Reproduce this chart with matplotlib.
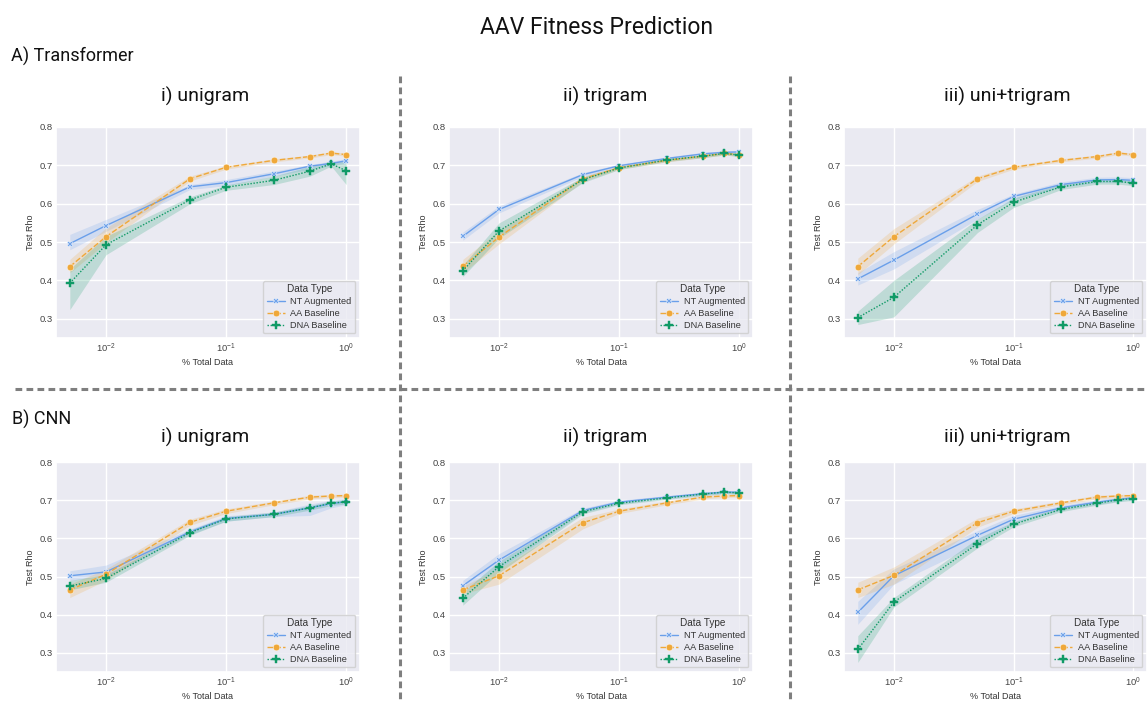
import matplotlib
matplotlib.use("Agg")
import matplotlib.pyplot as plt
from matplotlib.lines import Line2D
import seaborn as sns
import numpy as np

sns.set_theme(style="darkgrid")
plt.rcParams['font.family'] = ['Liberation Sans', 'DejaVu Sans']

# x positions (fraction of total data)
fractions = [0.005, 0.01, 0.05, 0.1, 0.25, 0.5, 0.75, 1.0]
series_names = ["NT Augmented", "AA Baseline", "DNA Baseline"]

# A) Transformer, i) unigram
tf_uni_nt = [0.496, 0.543, 0.644, 0.655, 0.678, 0.698, 0.705, 0.712]
tf_uni_nt_lo = [0.480, 0.528, 0.637, 0.647, 0.672, 0.690, 0.699, 0.706]
tf_uni_nt_hi = [0.520, 0.559, 0.650, 0.663, 0.685, 0.702, 0.711, 0.717]
tf_uni_aa = [0.436, 0.514, 0.665, 0.695, 0.713, 0.723, 0.732, 0.728]
tf_uni_aa_lo = [0.420, 0.498, 0.659, 0.690, 0.709, 0.719, 0.728, 0.724]
tf_uni_aa_hi = [0.455, 0.537, 0.672, 0.699, 0.717, 0.727, 0.736, 0.732]
tf_uni_dna = [0.393, 0.493, 0.610, 0.643, 0.661, 0.685, 0.704, 0.686]
tf_uni_dna_lo = [0.324, 0.467, 0.600, 0.635, 0.650, 0.672, 0.698, 0.650]
tf_uni_dna_hi = [0.430, 0.515, 0.618, 0.649, 0.672, 0.698, 0.710, 0.710]

# A) Transformer, ii) trigram
tf_tri_nt = [0.515, 0.585, 0.676, 0.699, 0.718, 0.730, 0.734, 0.735]
tf_tri_nt_lo = [0.505, 0.576, 0.671, 0.695, 0.714, 0.726, 0.730, 0.731]
tf_tri_nt_hi = [0.526, 0.594, 0.681, 0.703, 0.722, 0.734, 0.738, 0.739]
tf_tri_aa = [0.437, 0.513, 0.665, 0.694, 0.713, 0.724, 0.731, 0.728]
tf_tri_aa_lo = [0.420, 0.495, 0.658, 0.690, 0.709, 0.720, 0.727, 0.724]
tf_tri_aa_hi = [0.455, 0.530, 0.671, 0.698, 0.717, 0.728, 0.735, 0.732]
tf_tri_dna = [0.425, 0.529, 0.663, 0.693, 0.714, 0.724, 0.731, 0.727]
tf_tri_dna_lo = [0.410, 0.510, 0.655, 0.689, 0.710, 0.720, 0.727, 0.723]
tf_tri_dna_hi = [0.440, 0.550, 0.670, 0.697, 0.718, 0.728, 0.735, 0.731]

# A) Transformer, iii) uni+trigram
tf_both_nt = [0.404, 0.453, 0.573, 0.619, 0.650, 0.662, 0.663, 0.661]
tf_both_nt_lo = [0.388, 0.430, 0.560, 0.610, 0.643, 0.655, 0.656, 0.654]
tf_both_nt_hi = [0.420, 0.475, 0.585, 0.625, 0.657, 0.669, 0.670, 0.668]
tf_both_aa = [0.436, 0.514, 0.665, 0.695, 0.713, 0.723, 0.732, 0.728]
tf_both_aa_lo = [0.415, 0.495, 0.658, 0.690, 0.709, 0.719, 0.728, 0.724]
tf_both_aa_hi = [0.458, 0.535, 0.672, 0.700, 0.717, 0.727, 0.736, 0.732]
tf_both_dna = [0.303, 0.356, 0.545, 0.604, 0.644, 0.658, 0.658, 0.654]
tf_both_dna_lo = [0.285, 0.305, 0.525, 0.590, 0.637, 0.651, 0.651, 0.647]
tf_both_dna_hi = [0.320, 0.400, 0.560, 0.615, 0.651, 0.665, 0.665, 0.661]

# B) CNN, i) unigram
cnn_uni_nt = [0.502, 0.512, 0.617, 0.652, 0.663, 0.680, 0.691, 0.696]
cnn_uni_nt_lo = [0.490, 0.500, 0.610, 0.645, 0.657, 0.660, 0.680, 0.688]
cnn_uni_nt_hi = [0.515, 0.530, 0.624, 0.659, 0.669, 0.690, 0.700, 0.704]
cnn_uni_aa = [0.465, 0.506, 0.642, 0.671, 0.693, 0.708, 0.711, 0.712]
cnn_uni_aa_lo = [0.445, 0.490, 0.634, 0.665, 0.688, 0.703, 0.707, 0.708]
cnn_uni_aa_hi = [0.480, 0.520, 0.650, 0.677, 0.698, 0.713, 0.715, 0.716]
cnn_uni_dna = [0.475, 0.495, 0.615, 0.651, 0.663, 0.680, 0.692, 0.696]
cnn_uni_dna_lo = [0.465, 0.485, 0.608, 0.645, 0.657, 0.674, 0.686, 0.690]
cnn_uni_dna_hi = [0.490, 0.505, 0.622, 0.657, 0.669, 0.686, 0.698, 0.702]

# B) CNN, ii) trigram
cnn_tri_nt = [0.476, 0.543, 0.673, 0.695, 0.708, 0.717, 0.721, 0.721]
cnn_tri_nt_lo = [0.465, 0.520, 0.667, 0.690, 0.704, 0.713, 0.717, 0.717]
cnn_tri_nt_hi = [0.490, 0.560, 0.679, 0.700, 0.712, 0.721, 0.725, 0.725]
cnn_tri_aa = [0.465, 0.502, 0.641, 0.671, 0.693, 0.708, 0.711, 0.712]
cnn_tri_aa_lo = [0.455, 0.480, 0.625, 0.665, 0.688, 0.703, 0.707, 0.708]
cnn_tri_aa_hi = [0.475, 0.520, 0.655, 0.677, 0.698, 0.713, 0.715, 0.716]
cnn_tri_dna = [0.443, 0.526, 0.670, 0.692, 0.706, 0.716, 0.721, 0.719]
cnn_tri_dna_lo = [0.425, 0.510, 0.664, 0.688, 0.702, 0.712, 0.717, 0.715]
cnn_tri_dna_hi = [0.460, 0.540, 0.676, 0.696, 0.710, 0.720, 0.725, 0.723]

# B) CNN, iii) uni+trigram
cnn_both_nt = [0.406, 0.502, 0.608, 0.650, 0.680, 0.695, 0.702, 0.706]
cnn_both_nt_lo = [0.375, 0.480, 0.585, 0.640, 0.674, 0.689, 0.697, 0.701]
cnn_both_nt_hi = [0.435, 0.520, 0.620, 0.660, 0.686, 0.701, 0.707, 0.711]
cnn_both_aa = [0.465, 0.503, 0.641, 0.671, 0.693, 0.708, 0.711, 0.712]
cnn_both_aa_lo = [0.445, 0.480, 0.629, 0.665, 0.688, 0.703, 0.707, 0.708]
cnn_both_aa_hi = [0.485, 0.525, 0.653, 0.677, 0.698, 0.713, 0.715, 0.716]
cnn_both_dna = [0.309, 0.433, 0.586, 0.637, 0.676, 0.692, 0.701, 0.704]
cnn_both_dna_lo = [0.275, 0.420, 0.575, 0.630, 0.670, 0.687, 0.696, 0.699]
cnn_both_dna_hi = [0.345, 0.445, 0.600, 0.644, 0.682, 0.697, 0.706, 0.709]

panels = [
    [(tf_uni_nt, tf_uni_nt_lo, tf_uni_nt_hi), (tf_uni_aa, tf_uni_aa_lo, tf_uni_aa_hi), (tf_uni_dna, tf_uni_dna_lo, tf_uni_dna_hi)],
    [(tf_tri_nt, tf_tri_nt_lo, tf_tri_nt_hi), (tf_tri_aa, tf_tri_aa_lo, tf_tri_aa_hi), (tf_tri_dna, tf_tri_dna_lo, tf_tri_dna_hi)],
    [(tf_both_nt, tf_both_nt_lo, tf_both_nt_hi), (tf_both_aa, tf_both_aa_lo, tf_both_aa_hi), (tf_both_dna, tf_both_dna_lo, tf_both_dna_hi)],
    [(cnn_uni_nt, cnn_uni_nt_lo, cnn_uni_nt_hi), (cnn_uni_aa, cnn_uni_aa_lo, cnn_uni_aa_hi), (cnn_uni_dna, cnn_uni_dna_lo, cnn_uni_dna_hi)],
    [(cnn_tri_nt, cnn_tri_nt_lo, cnn_tri_nt_hi), (cnn_tri_aa, cnn_tri_aa_lo, cnn_tri_aa_hi), (cnn_tri_dna, cnn_tri_dna_lo, cnn_tri_dna_hi)],
    [(cnn_both_nt, cnn_both_nt_lo, cnn_both_nt_hi), (cnn_both_aa, cnn_both_aa_lo, cnn_both_aa_hi), (cnn_both_dna, cnn_both_dna_lo, cnn_both_dna_hi)],
]

colors = ['#6a9fea', '#efa83a', '#109a66']
styles = ['-', (0, (4, 1.6)), (0, (1, 1.2))]
markers = ['X', 'o', 'P']
msizes = [4, 4.8, 6.0]
medges = ['white', 'white', '#109a66']

W, H = 1148, 702
fig = plt.figure(figsize=(W / 100, H / 100), dpi=100)

# axes boxes in pixels: left, top, right, bottom
boxes = [(56, 127, 360, 338), (449, 127, 753, 338), (844, 127, 1147, 338),
         (56, 462, 360, 672), (449, 462, 753, 672), (844, 462, 1147, 672)]

for box, panel in zip(boxes, panels):
    l, t, r, b = box
    ax = fig.add_axes([l / W, 1 - b / H, (r - l) / W, (b - t) / H])
    handles = []
    for i, (mean, lo, hi) in enumerate(panel):
        ax.fill_between(fractions, lo, hi, color=colors[i], alpha=0.2, linewidth=0)
        h, = ax.plot(fractions, mean, color=colors[i], linestyle=styles[i], linewidth=1.0,
                     marker=markers[i], markersize=msizes[i], markeredgecolor=medges[i],
                     markeredgewidth=0.3, label=series_names[i])
        handles.append(h)
    ax.set_xscale('log')
    ax.set_ylim(0.25, 0.8)
    ax.set_yticks([0.3, 0.4, 0.5, 0.6, 0.7, 0.8])
    ax.set_xlabel('% Total Data', fontsize=6.5, color='#333333', labelpad=2)
    ax.set_ylabel('Test Rho', fontsize=6.5, color='#333333', labelpad=3)
    ax.tick_params(axis='both', labelsize=6.8, labelcolor='#444444', pad=2.5, length=0)
    ax.grid(which='minor', visible=False)
    leg = ax.legend(handles=handles, title='Data Type', loc='lower right', fontsize=6.6,
                    title_fontsize=7.2, frameon=True, borderaxespad=0.5, handlelength=2.0,
                    handletextpad=0.6, labelspacing=0.3, borderpad=0.4)
    for txt in leg.get_texts():
        txt.set_color('#333333')
    leg.get_title().set_color('#333333')

# overlay texts
over = ['Roboto', 'DejaVu Sans']
fig.text(596 / W, 1 - 28 / H, 'AAV Fitness Prediction', fontsize=16.5, family=over,
         ha='center', va='center', color='#111111')
fig.text(11 / W, 1 - 56 / H, 'A) Transformer', fontsize=13, family=over,
         ha='left', va='center', color='#111111')
fig.text(12 / W, 1 - 419 / H, 'B) CNN', fontsize=13, family=over,
         ha='left', va='center', color='#111111')

col_titles = ['i) unigram', 'ii) trigram', 'iii) uni+trigram']
col_x = [205, 605, 1007]
for name, cx in zip(col_titles, col_x):
    fig.text(cx / W, 1 - 96 / H, name, fontsize=14, family=over, ha='center', va='center', color='#111111')
    fig.text(cx / W, 1 - 437 / H, name, fontsize=14, family=over, ha='center', va='center', color='#111111')

# dashed separators
sep = dict(color='#7f7f7f', linewidth=2.2, linestyle=(0, (2.2, 1.4)), transform=fig.transFigure)
fig.add_artist(Line2D([400 / W, 400 / W], [1 - 76 / H, 0], **sep))
fig.add_artist(Line2D([790 / W, 790 / W], [1 - 76 / H, 0], **sep))
fig.add_artist(Line2D([15 / W, 1], [1 - 389 / H, 1 - 389 / H], **sep))

fig.savefig('out.png', dpi=100, facecolor='white')
